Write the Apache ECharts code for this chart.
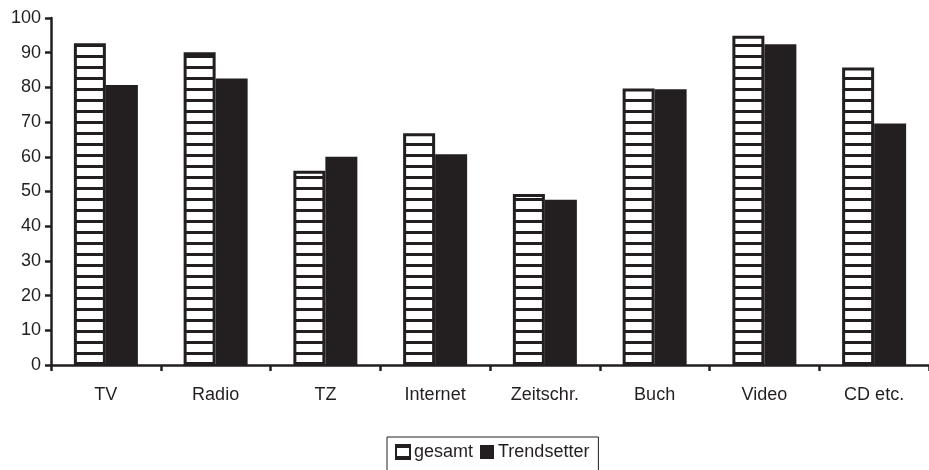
<!DOCTYPE html>
<html>
<head>
<meta charset="utf-8">
<script src="https://cdn.jsdelivr.net/npm/echarts@6/dist/echarts.min.js"></script>
<style>
  html, body { margin: 0; padding: 0; background: #fff; }
  #chart { width: 929px; height: 470px; }
</style>
</head>
<body>
<div id="chart"></div>
<script>
// Media usage: all respondents vs. trendsetters (percent)
const categories = ['TV', 'Radio', 'TZ', 'Internet', 'Zeitschr.', 'Buch', 'Video', 'CD etc.'];
const gesamt = [92.7, 90.1, 56.0, 66.8, 49.3, 79.7, 94.9, 85.7];
const trendsetter = [80.7, 82.6, 60.0, 60.7, 47.6, 79.5, 92.4, 69.6];
const seriesNames = ['gesamt', 'Trendsetter'];

const INK = '#231f20';
const FONT = '"Liberation Sans", Arial, sans-serif';

// Horizontal stripe fill for the "gesamt" bars
function stripePattern() {
  const c = document.createElement('canvas');
  c.width = 8;
  c.height = 11;
  const ctx = c.getContext('2d');
  ctx.fillStyle = '#ffffff';
  ctx.fillRect(0, 0, c.width, c.height);
  ctx.fillStyle = INK;
  ctx.fillRect(0, 0, c.width, 3);
  return c;
}

const chart = echarts.init(document.getElementById('chart'), null, { renderer: 'canvas' });

chart.setOption({
  backgroundColor: '#ffffff',
  animation: false,
  textStyle: { fontFamily: FONT, color: INK },
  grid: { left: 51, top: 18, width: 888, height: 347 },
  legend: {
    data: seriesNames,
    icon: 'rect',
    left: 387,
    top: 437,
    itemWidth: 14,
    itemHeight: 14,
    itemGap: 7,
    padding: [6, 9, 20, 8],
    borderColor: INK,
    borderWidth: 1,
    textStyle: { fontFamily: FONT, fontSize: 18, color: INK, padding: [0, 0, 0, -1] }
  },
  xAxis: {
    type: 'category',
    data: categories,
    axisLine: { lineStyle: { color: INK, width: 2.5 } },
    axisTick: { show: true, length: 6, lineStyle: { color: INK, width: 2.5 } },
    axisLabel: { fontFamily: FONT, fontSize: 18, color: INK, margin: 21 },
    splitLine: { show: false }
  },
  yAxis: {
    type: 'value',
    min: 0,
    max: 100,
    interval: 10,
    axisLine: { show: true, lineStyle: { color: INK, width: 2.5 } },
    axisTick: { show: true, length: 6, lineStyle: { color: INK, width: 2.5 } },
    axisLabel: { fontFamily: FONT, fontSize: 18, color: INK, margin: 10 },
    splitLine: { show: false }
  },
  series: [
    {
      name: seriesNames[0],
      type: 'bar',
      data: gesamt,
      barWidth: 32,
      barGap: '0%',
      itemStyle: {
        color: { image: stripePattern(), repeat: 'repeat' },
        borderColor: INK,
        borderWidth: 3
      }
    },
    {
      name: seriesNames[1],
      type: 'bar',
      data: trendsetter,
      barWidth: 32,
      barGap: '0%',
      itemStyle: { color: INK }
    }
  ]
});
</script>
</body>
</html>
